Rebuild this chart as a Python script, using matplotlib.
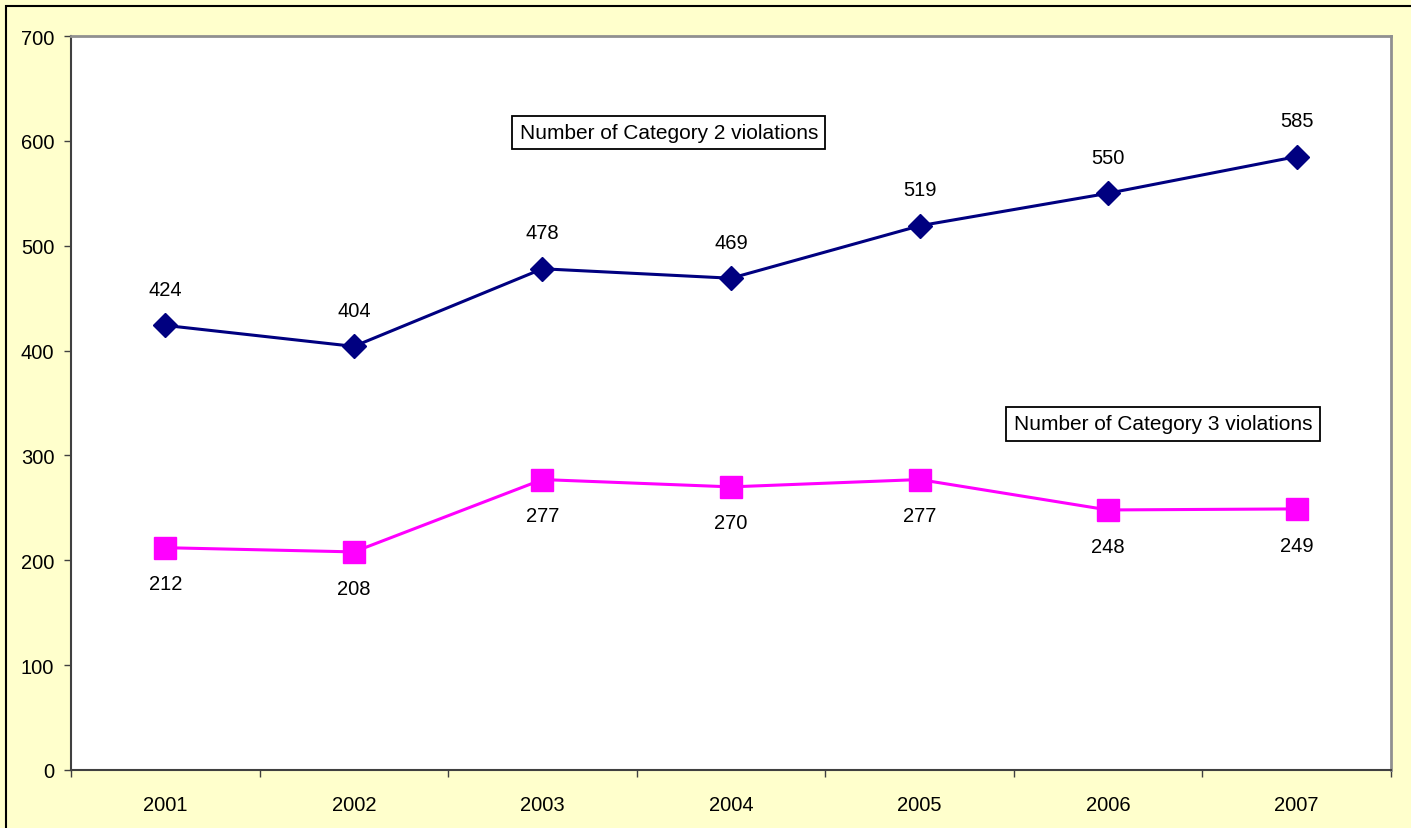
import matplotlib
matplotlib.use('Agg')
import matplotlib.pyplot as plt
from matplotlib.patches import Rectangle

plt.rcParams['font.family'] = ['Liberation Sans', 'DejaVu Sans']

# Yearly violation counts
years = ['2001', '2002', '2003', '2004', '2005', '2006', '2007']
cat2 = [424, 404, 478, 469, 519, 550, 585]
cat3 = [212, 208, 277, 270, 277, 248, 249]

W, H = 1411, 829
fig = plt.figure(figsize=(W / 100, H / 100), dpi=100)
fig.patch.set_facecolor('#FFFFCC')

# outer frame of the chart area (only its top and left edges fall inside the image)
fig.add_artist(Rectangle((6 / W, -0.1), 1.2, 1.1 - 7 / H, transform=fig.transFigure,
                         fill=False, edgecolor='black', linewidth=1.5))

ax = fig.add_axes([71 / W, 1 - 771 / H, (1391 - 71) / W, (771 - 37) / H])
ax.set_facecolor('white')

x = list(range(len(years)))
ax.plot(x, cat2, color='#000080', linewidth=2.2, marker='D', markersize=12.5,
        markeredgecolor='#000080', zorder=3)
ax.plot(x, cat3, color='#FF00FF', linewidth=2.2, marker='s', markersize=16.5,
        markeredgecolor='#FF00FF', zorder=3)

for xi, v in zip(x, cat2):
    ax.annotate(str(v), (xi, v), xytext=(0, 26), textcoords='offset points',
                ha='center', va='center', fontsize=14.5)
for xi, v in zip(x, cat3):
    ax.annotate(str(v), (xi, v), xytext=(0, -26), textcoords='offset points',
                ha='center', va='center', fontsize=14.5)

ax.set_xlim(-0.5, len(years) - 0.5)
ax.set_ylim(0, 700)
ax.set_yticks(range(0, 701, 100))
ax.tick_params(axis='y', length=5, width=1, labelsize=14.5, pad=7, color='#404040')

# category ticks sit on the boundaries, labels in the middle
ax.set_xticks([i - 0.5 for i in range(len(years) + 1)])
ax.set_xticklabels([])
ax.set_xticks(x, minor=True)
ax.set_xticklabels(years, minor=True)
ax.tick_params(axis='x', which='major', length=5, width=1, color='#404040')
ax.tick_params(axis='x', which='minor', length=0, labelsize=14.5, pad=18)

for side in ('left', 'bottom'):
    ax.spines[side].set_color('#404040')
    ax.spines[side].set_linewidth(1.5)
for side in ('top', 'right'):
    ax.spines[side].set_color('#909090')
    ax.spines[side].set_linewidth(2)

box = dict(boxstyle='square,pad=0.35', facecolor='white', edgecolor='black', linewidth=1.3)
ax.text(2.671, 608, 'Number of Category 2 violations', fontsize=15, va='center', ha='center', bbox=box)
ax.text(5.291, 330, 'Number of Category 3 violations', fontsize=15, va='center', ha='center', bbox=box)

fig.savefig('out.png', dpi=100, facecolor=fig.get_facecolor())
